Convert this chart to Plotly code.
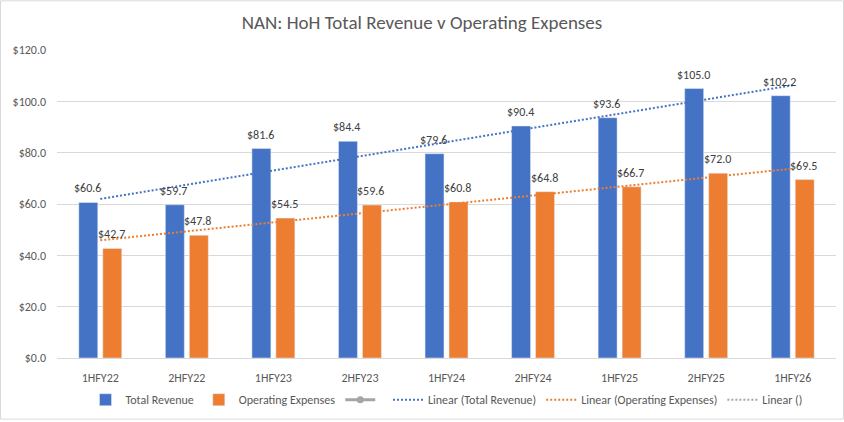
import numpy as np
import plotly.graph_objects as go

categories = ["1HFY22", "2HFY22", "1HFY23", "2HFY23", "1HFY24", "2HFY24", "1HFY25", "2HFY25", "1HFY26"]
total_revenue = [60.6, 59.7, 81.6, 84.4, 79.6, 90.4, 93.6, 105.0, 102.2]
operating_expenses = [42.7, 47.8, 54.5, 59.6, 60.8, 64.8, 66.7, 72.0, 69.5]
y_ticks = [0, 20, 40, 60, 80, 100, 120]
y_tick_labels = [f"${v:.1f}" for v in y_ticks]

BLUE = "#4472C4"
ORANGE = "#ED7D31"
GRAY = "#A5A5A5"
TXT = "#595959"
LBL = "#404040"
FONT = "Calibri, Carlito, Lato, Roboto, sans-serif"

W, H = 844, 422
ML, MR, MT, MB = 57, 8, 50, 62


def linfit(vals):
    x = np.arange(len(vals))
    m, b = np.polyfit(x, vals, 1)
    return list(m * x + b)


fig = go.Figure()
fig.add_trace(go.Bar(x=categories, y=total_revenue, name="Total Revenue", marker_color=BLUE))
fig.add_trace(go.Bar(x=categories, y=operating_expenses, name="Operating Expenses", marker_color=ORANGE))
fig.add_trace(go.Scatter(
    x=[None], y=[None], name=" ", mode="lines+markers",
    line=dict(color=GRAY, width=3), marker=dict(color=GRAY, size=7),
))
fig.add_trace(go.Scatter(
    x=categories, y=linfit(total_revenue), name="Linear (Total Revenue)", mode="lines",
    line=dict(color=BLUE, width=2, dash="2px,2px"), hoverinfo="skip",
))
fig.add_trace(go.Scatter(
    x=categories, y=linfit(operating_expenses), name="Linear (Operating Expenses)", mode="lines",
    line=dict(color=ORANGE, width=2, dash="2px,2px"), hoverinfo="skip",
))
fig.add_trace(go.Scatter(
    x=[None], y=[None], name="Linear ()", mode="lines",
    line=dict(color=GRAY, width=2, dash="2px,2px"),
))

annotations = []
for series, xs in ((total_revenue, -13), (operating_expenses, 11)):
    for c, v in zip(categories, series):
        annotations.append(dict(
            x=c, y=v, xref="x", yref="y", text=f"${v:.1f}", showarrow=False,
            xanchor="center", yanchor="bottom", xshift=xs, yshift=5,
            font=dict(color=LBL, size=12, family=FONT),
        ))

pw = W - ML - MR
ph = H - MT - MB

fig.update_layout(
    width=W, height=H,
    margin=dict(l=ML, r=MR, t=MT, b=MB, pad=0),
    paper_bgcolor="white", plot_bgcolor="white",
    font=dict(family=FONT, color=TXT, size=12),
    title=dict(text="NAN: HoH Total Revenue v Operating Expenses", x=0.5, xanchor="center",
               y=1 - 22 / H, yanchor="middle", font=dict(size=19, color=TXT, family=FONT)),
    barmode="group", bargap=0.446, bargroupgap=0.21,
    showlegend=True,
    legend=dict(orientation="h", x=0.5, xanchor="center", y=-(402 - (H - MB)) / ph, yanchor="middle",
                font=dict(size=12, color=TXT, family=FONT), itemwidth=30, tracegroupgap=0),
    xaxis=dict(showgrid=False, showline=True, linecolor="#D9D9D9", linewidth=1,
               ticks="", ticklabelstandoff=9, tickfont=dict(size=12, color=TXT), fixedrange=True),
    yaxis=dict(range=[0, 120], tickvals=y_ticks, ticktext=y_tick_labels,
               showgrid=True, gridcolor="#D9D9D9", gridwidth=1, zeroline=False,
               showline=False, ticks="", ticklabelstandoff=10,
               tickfont=dict(size=12, color=TXT)),
    annotations=annotations,
    shapes=[dict(type="rect", xref="paper", yref="paper",
                 x0=-(ML - 0.5) / pw, x1=1 + (MR - 0.5) / pw,
                 y0=-(MB - 0.5) / ph, y1=1 + (MT - 0.5) / ph,
                 line=dict(color="#D9D9D9", width=1), layer="below")],
)

fig.write_html("out.html")
